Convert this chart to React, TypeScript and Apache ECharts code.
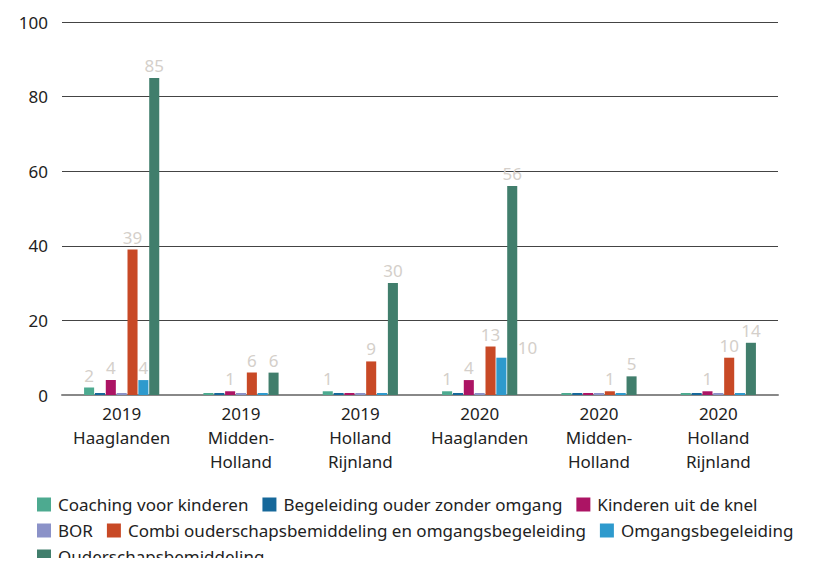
import React, { useEffect, useRef } from "react";
import * as echarts from "echarts";

const categories = [
  "2019\nHaaglanden",
  "2019\nMidden-\nHolland",
  "2019\nHolland\nRijnland",
  "2020\nHaaglanden",
  "2020\nMidden-\nHolland",
  "2020\nHolland\nRijnland",
];

const seriesNames = [
  "Coaching voor kinderen",
  "Begeleiding ouder zonder omgang",
  "Kinderen uit de knel",
  "BOR",
  "Combi ouderschapsbemiddeling en omgangsbegeleiding",
  "Omgangsbegeleiding",
  "Ouderschapsbemiddeling",
];

const coaching = [2, 0, 1, 1, 0, 0];
const begeleiding = [0, 0, 0, 0, 0, 0];
const kinderen = [4, 1, 0, 4, 0, 1];
const bor = [0, 0, 0, 0, 0, 0];
const combi = [39, 6, 9, 13, 1, 10];
const omgang = [4, 0, 0, 10, 0, 0];
const ouderschap = [85, 6, 30, 56, 5, 14];

const seriesValues = [coaching, begeleiding, kinderen, bor, combi, omgang, ouderschap];

const colors = ["#4DAA90", "#16689A", "#AC1464", "#8B92C8", "#C84926", "#2E9ACD", "#417E6C"];

const yTicks = [0, 20, 40, 60, 80, 100];

const FONT = "Noto Sans";

export default function App() {
  const ref = useRef<HTMLDivElement>(null);
  useEffect(() => {
    if (!ref.current) return;
    const chart = echarts.init(ref.current, undefined, { renderer: "svg" });
    const legendBase = {
      left: 37,
      itemWidth: 14,
      itemHeight: 14,
      itemGap: 14,
      icon: "rect",
      textStyle: { fontFamily: FONT, fontSize: 17, color: "#222", padding: [0, 0, 0, 2] },
      padding: 0,
    };
    chart.setOption({
      animation: false,
      color: colors,
      textStyle: { fontFamily: FONT },
      grid: { left: 62, right: 45, top: 22, bottom: 171, containLabel: false },
      legend: [
        { ...legendBase, top: 496, data: seriesNames.slice(0, 3) },
        { ...legendBase, top: 522, data: seriesNames.slice(3, 6) },
        { ...legendBase, top: 548, data: seriesNames.slice(6) },
      ],
      xAxis: {
        type: "category",
        data: categories,
        axisTick: { show: false },
        axisLine: { lineStyle: { color: "#888", width: 2 } },
        axisLabel: {
          fontFamily: FONT,
          fontSize: 17,
          color: "#222",
          lineHeight: 24,
          margin: 6,
          interval: 0,
        },
      },
      yAxis: {
        type: "value",
        min: yTicks[0],
        max: yTicks[yTicks.length - 1],
        interval: 20,
        axisLine: { show: false },
        axisTick: { show: false },
        axisLabel: { fontFamily: FONT, fontSize: 17, color: "#222", margin: 14 },
        splitLine: { lineStyle: { color: "#444", width: 1 } },
      },
      series: seriesNames.map((name, i) => ({
        name,
        type: "bar",
        barGap: "8%",
        barCategoryGap: "37%",
        barMinHeight: 2,
        data: seriesValues[i].map((v, j) => {
          if (i === 5 && j === 3) {
            return { value: v, label: { offset: [26, 2] } };
          }
          return v;
        }),
        label: {
          show: true,
          position: "top",
          distance: 4,
          fontFamily: FONT,
          fontSize: 17,
          color: "#d4cfca",
          formatter: (p: any) => (p.value === 0 ? "" : String(p.value)),
        },
      })),
    });
    return () => chart.dispose();
  }, []);
  return <div ref={ref} style={{ width: 823, height: 566, margin: -8 }} />;
}
